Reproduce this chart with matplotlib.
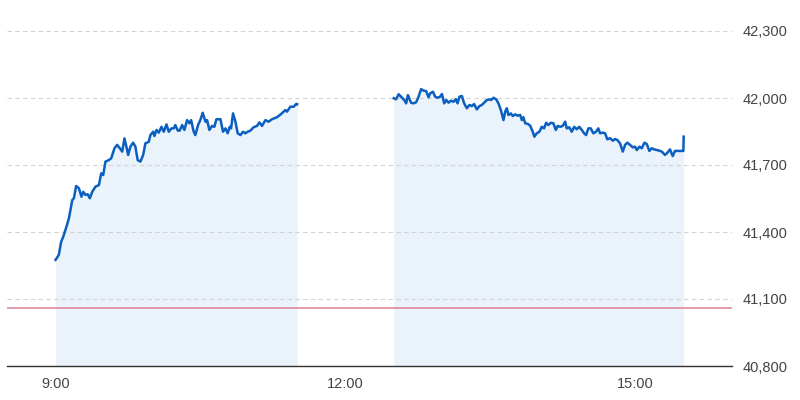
import numpy as np
import matplotlib
matplotlib.use("Agg")
import matplotlib.pyplot as plt

# minutes after 9:00 and index level, morning session (9:00-11:30)
am_min = [0, 2.0, 3.5, 4.8, 6.8, 8.3, 10.4, 11.4, 12.8, 14.5, 16.1, 17.2, 18.6, 20.0,
          21.3, 22.8, 24.8, 26.9, 28.4, 29.6, 31.0, 33.1, 34.6, 36.6, 38.3, 39.9,
          41.4, 42.8, 44.0, 45.1, 46.5, 48.2, 49.6, 51.0, 52.7, 54.4, 55.8, 57.9,
          58.9, 60.6, 61.4, 62.7, 64.1, 65.8, 67.2, 68.9, 70.3, 72.0, 73.4, 74.4,
          75.9, 77.1, 78.6, 80.0, 81.7, 83.1, 84.2, 85.8, 86.8, 88.5, 89.9, 91.4,
          93.1, 94.1, 95.5, 97.2, 98.6, 99.9, 102.4, 104.0, 105.5, 106.9, 108.1,
          109.0, 110.2, 111.7, 113.1, 114.8, 116.4, 117.9, 119.3, 121.0, 123.0,
          125.1, 126.6, 128.2, 130.3, 132.3, 134.4, 137.5, 140.0, 142.7, 143.7,
          145.8, 147.9, 149.5, 150]
am_val = [41275, 41297, 41356, 41379, 41424, 41461, 41543, 41551, 41606, 41596,
          41558, 41580, 41566, 41569, 41551, 41580, 41603, 41610, 41663, 41655,
          41715, 41722, 41730, 41775, 41790, 41775, 41760, 41819, 41782, 41745,
          41782, 41800, 41782, 41722, 41715, 41745, 41797, 41804, 41834, 41849,
          41830, 41857, 41845, 41871, 41849, 41882, 41849, 41864, 41864, 41879,
          41854, 41854, 41879, 41857, 41901, 41887, 41901, 41849, 41834, 41879,
          41901, 41934, 41894, 41901, 41857, 41875, 41871, 41905, 41905, 41849,
          41864, 41842, 41871, 41864, 41931, 41894, 41842, 41834, 41849, 41842,
          41849, 41854, 41869, 41875, 41891, 41875, 41901, 41894, 41905, 41914,
          41928, 41946, 41939, 41961, 41961, 41974, 41972]

# afternoon session (12:30-15:30)
pm_min = [210, 211.4, 213.0, 214.5, 216.5, 217.7, 218.8, 220.7, 222.3, 223.9, 225.4,
          227.0, 228.5, 230.1, 231.6, 232.6, 234.3, 235.7, 237.2, 238.8, 239.9,
          241.3, 242.6, 244.0, 245.5, 247.1, 248.6, 249.6, 250.8, 252.3, 253.7,
          255.4, 257.0, 258.5, 259.9, 261.6, 263.2, 264.7, 266.1, 267.8, 269.4,
          270.5, 271.9, 273.6, 275.0, 276.5, 278.1, 279.2, 280.2, 281.2, 282.7,
          283.9, 285.4, 286.8, 288.5, 289.5, 290.5, 291.6, 293.2, 294.7, 296.3,
          297.3, 298.8, 300.4, 301.9, 303.3, 304.6, 306.0, 307.5, 309.1, 310.6,
          311.8, 313.3, 314.9, 316.4, 317.4, 319.0, 320.5, 322.0, 323.6, 325.2,
          326.7, 328.2, 329.4, 330.8, 332.3, 333.9, 335.6, 337.0, 338.1, 339.8,
          341.2, 342.6, 344.3, 346.0, 347.4, 348.8, 350.5, 352.2, 353.6, 355.0,
          356.7, 358.4, 359.8, 360.9, 362.5, 364.0, 365.6, 367.1, 368.7, 370.2,
          371.6, 373.3, 374.9, 376.4, 378.4, 379.9, 381.5, 383.2, 384.6, 386.7,
          388.8, 389.8, 390]
pm_val = [41999, 41994, 42017, 42006, 41991, 41976, 42013, 41979, 41976, 41981,
          42006, 42040, 42033, 42031, 42003, 42021, 42028, 42006, 42001, 42006,
          42018, 41976, 41991, 41979, 41988, 41983, 41995, 41976, 42006, 42009,
          41976, 41954, 41969, 41964, 41973, 41949, 41964, 41969, 41979, 41991,
          41994, 41991, 42001, 41994, 41976, 41946, 41901, 41939, 41954, 41924,
          41931, 41919, 41927, 41921, 41924, 41901, 41914, 41887, 41884, 41876,
          41849, 41827, 41842, 41849, 41871, 41864, 41889, 41879, 41889, 41887,
          41857, 41875, 41871, 41875, 41894, 41864, 41869, 41849, 41871, 41860,
          41871, 41857, 41842, 41834, 41864, 41864, 41842, 41849, 41864, 41842,
          41845, 41842, 41815, 41820, 41809, 41816, 41812, 41797, 41760, 41790,
          41800, 41790, 41779, 41782, 41767, 41782, 41775, 41800, 41794, 41763,
          41775, 41770, 41767, 41764, 41760, 41745, 41755, 41770, 41740, 41763,
          41763, 41763, 41763, 41827]

prev_close = 41060
y_ticks = [40800, 41100, 41400, 41700, 42000, 42300]
x_ticks = [0, 180, 360]
x_labels = ["9:00", "12:00", "15:00"]

plt.rcParams['font.family'] = ['Liberation Sans', 'DejaVu Sans']

fig = plt.figure(figsize=(8, 4), dpi=100)
ax = fig.add_axes([0.009, 0.085, 0.906, 0.8375])

line_col = "#0a5fbf"
fill_col = "#eaf2fb"
for mins, vals in [(am_min, am_val), (pm_min, pm_val)]:
    ax.fill_between(mins, vals, 40800, color=fill_col, lw=0, zorder=1)
    ax.plot(mins, vals, color=line_col, lw=1.8, zorder=3)

ax.axhline(prev_close, color="#e07f93", lw=1.1, zorder=2.6)

ax.set_xlim(-30, 420)
ax.set_ylim(40800, 42300)
ax.set_yticks(y_ticks)
ax.set_yticklabels([f"{v:,}" for v in y_ticks])
ax.set_xticks(x_ticks)
ax.set_xticklabels(x_labels)
ax.yaxis.tick_right()
ax.tick_params(axis="both", length=0, labelsize=10.5, colors="#444444")
ax.tick_params(axis="y", pad=8)
ax.tick_params(axis="x", pad=8)

ax.set_axisbelow(False)
ax.grid(axis="y", color="#d3d3d3", lw=0.8, linestyle=(0, (4, 3)))
ax.grid(axis="x", visible=False)

for s in ["top", "left", "right"]:
    ax.spines[s].set_visible(False)
ax.spines["bottom"].set_color("#333333")
ax.spines["bottom"].set_linewidth(1.0)
ax.spines["bottom"].set_zorder(4)

fig.savefig("out.png", dpi=100)
